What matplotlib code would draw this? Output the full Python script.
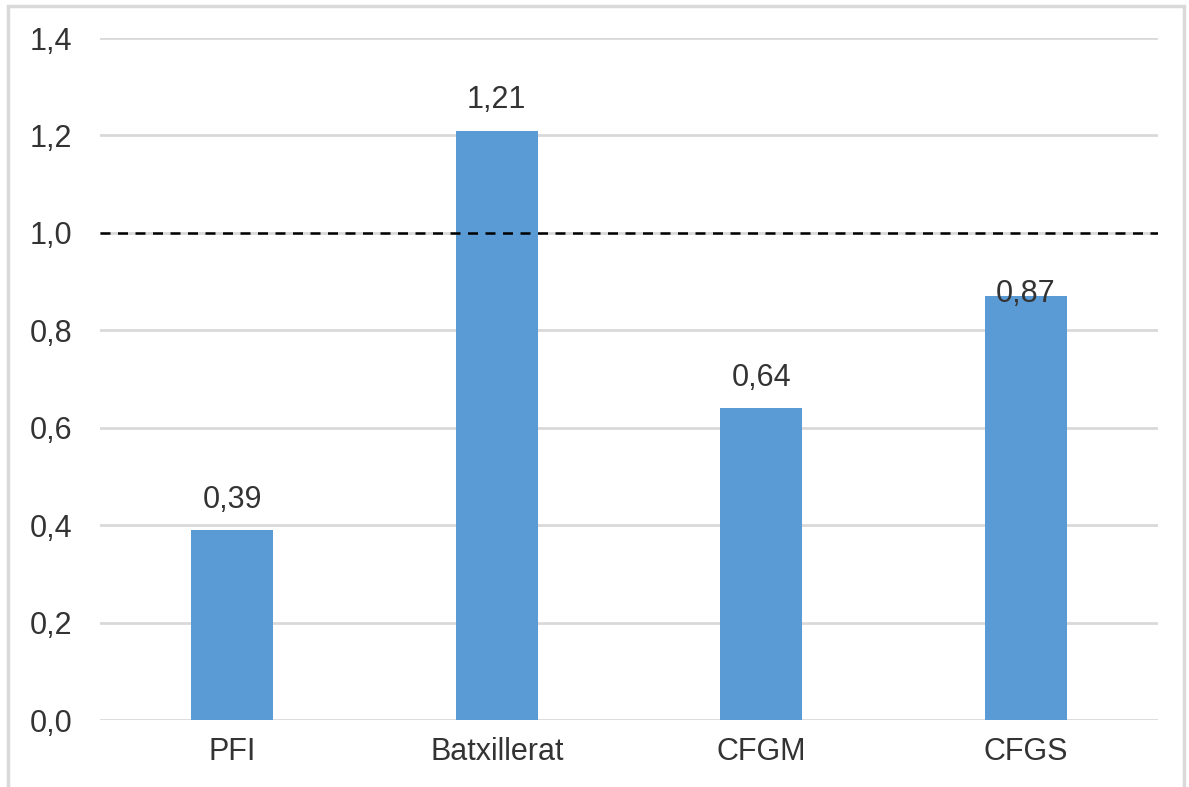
import numpy as np
import matplotlib
matplotlib.use("Agg")
import matplotlib.pyplot as plt
from matplotlib.patches import Rectangle

# ── Data ──────────────────────────────────────────────────────────────────────

categories = ["PFI", "Batxillerat", "CFGM", "CFGS"]
values = [0.39, 1.21, 0.64, 0.87]
reference_level = 1.0
yticks = [0.0, 0.2, 0.4, 0.6, 0.8, 1.0, 1.2, 1.4]

# baseline offset of value labels (points); the last one sits on the bar in the original
label_offsets = [16, 16, 16, -4]

# ── Plot ──────────────────────────────────────────────────────────────────────

plt.rcParams['font.family'] = ['Liberation Sans', 'DejaVu Sans']
text_color = '#333333'

fig = plt.figure(figsize=(11.89, 7.87), dpi=100)
ax = fig.add_axes([0.0841, 0.0851, 0.8899, 0.8666])

x = np.arange(len(categories))
ax.bar(x, values, width=0.31, color='#5b9bd5', zorder=3)
ax.axhline(reference_level, color='black', linestyle=(0, (4, 3)), linewidth=1.8, zorder=4)

for xi, v, off in zip(x, values, label_offsets):
    ax.annotate(f"{v:.2f}".replace('.', ','), xy=(xi, v), xytext=(0, off),
                textcoords='offset points', ha='center', va='baseline',
                fontsize=22, color=text_color, zorder=5)

ax.set_xlim(-0.5, len(categories) - 0.5)
ax.set_ylim(0, 1.4)
ax.set_yticks(yticks)
ax.set_yticklabels([f"{t:.1f}".replace('.', ',') for t in yticks])
ax.set_xticks(x)
ax.set_xticklabels(categories)
ax.tick_params(axis='both', length=0, labelsize=22, colors=text_color)
ax.tick_params(axis='y', pad=20)
ax.tick_params(axis='x', pad=12)
ax.grid(axis='y', color='#d9d9d9', linewidth=2, zorder=0)
for s in ax.spines.values():
    s.set_visible(False)

# outer border of the chart area (bottom is cut off in the original)
fig.patches.append(Rectangle((8 / 1189, -0.05), 1176 / 1189, 1 - 6 / 787 + 0.05,
                             transform=fig.transFigure, fill=False,
                             edgecolor='#d9d9d9', linewidth=2.5))

plt.savefig("out.png", dpi=100)
